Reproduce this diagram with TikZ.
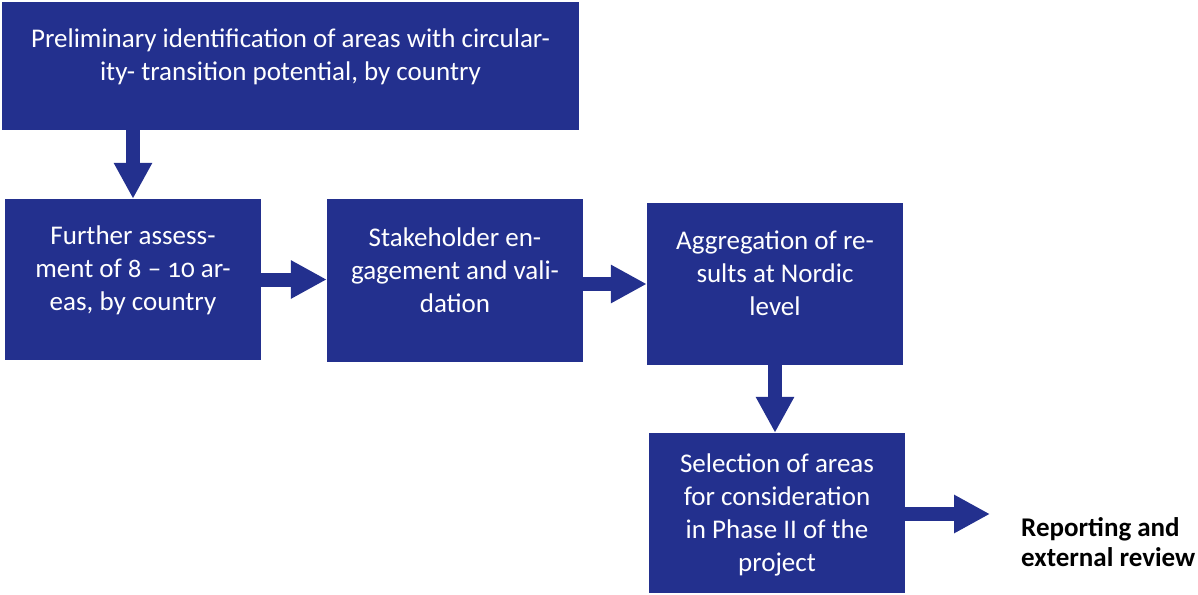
\documentclass[tikz,border=0pt]{standalone}
\usepackage{fontspec}
\setmainfont{Carlito}[Numbers=OldStyle]
\usetikzlibrary{arrows.meta}
\definecolor{boxblue}{RGB}{35,48,142}
\begin{document}
\begin{tikzpicture}[x=1pt,y=-1pt,
  box/.style={draw=none,fill=boxblue,inner sep=0pt,anchor=center},
  boxtext/.style={text=white,align=center,font=\fontsize{27}{33}\selectfont,inner sep=0pt},
  blk/.style={draw=boxblue,line width=14pt,-{Triangle[length=36pt,width=36pt]},shorten >=0pt}]
\useasboundingbox (0,0) rectangle (1198,594);
\node[box,minimum width=577pt,minimum height=128pt] (b1) at (290.5,66) {};
\node[box,minimum width=256pt,minimum height=161pt] (b2) at (133,279.5) {};
\node[box,minimum width=256pt,minimum height=163pt] (b3) at (455,280.5) {};
\node[box,minimum width=256pt,minimum height=162pt] (b4) at (775,284) {};
\node[box,minimum width=256pt,minimum height=160pt] (b5) at (777,513) {};
\node[boxtext] (t1) at ([yshift=9pt]b1.center) {Preliminary identification of areas with circular-\\ity- transition potential, by country};
\node[boxtext] (t2) at ([yshift=9.5pt]b2.center) {Further assess-\\ment of 8 -- 10 ar-\\eas, by country};
\node[boxtext] (t3) at ([yshift=10pt]b3.center) {Stakeholder en-\\gagement and vali-\\dation};
\node[boxtext] (t4) at ([yshift=11pt]b4.center) {Aggregation of re-\\sults at Nordic\\level};
\node[boxtext] (t5) at ([yshift=-2pt]b5.center) {Selection of areas\\for consideration\\in Phase II of the\\project};
\node[align=left,anchor=west,font=\fontsize{27}{30}\selectfont\bfseries,inner sep=0pt] (rep) at (1021,542) {Reporting and\\external review};
\coordinate (e5) at (990,514);
\draw[blk] (b2.north |- b1.south) -- (b2.north);
\draw[blk] (b2.east) -- (b3.west |- b2.east);
\draw[blk] (b3.east |- b4.west) -- (b4.west);
\draw[blk] (b4.south) -- (b4.south |- b5.north);
\draw[blk] (b5.east |- e5) -- (e5);
\end{tikzpicture}
\end{document}
